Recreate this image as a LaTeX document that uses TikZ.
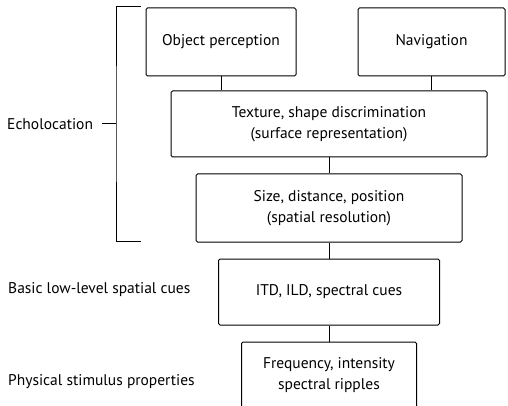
\documentclass[tikz,border=0pt]{standalone}
\usepackage{fontspec}
\setmainfont{PT Sans}
\usetikzlibrary{positioning}
\tikzstyle{block} = [rectangle, draw, text centered, rounded corners=1.5pt, inner sep=0pt, line width=1pt, minimum height=66pt]
\tikzstyle{line} = [draw, line width=1pt]
\tikzstyle{levelname} = [anchor=west, inner sep=0pt]

\begin{document}
\begin{tikzpicture}[x=1pt, y=-1pt, node distance=16pt, font=\fontsize{15.5}{20.5}\selectfont]
      \useasboundingbox (0,0) rectangle (508,406);
      % place nodes
      \node [block, minimum width=150pt, minimum height=68pt] (obj) at (221,42) {Object perception};
      \node [block, minimum width=147pt, minimum height=68pt] (nav) at (431.5,42) {Navigation};
      \node [block, minimum width=316pt, align=center] (tex) at (329,124) {Texture, shape discrimination\\(surface representation)};
      \node [block, below=of tex, minimum width=266pt, minimum height=68pt, align=center] (size) {Size, distance, position\\(spatial resolution)};
      \node [block, below=of size, minimum width=221pt] (itd) {ITD, ILD, spectral cues};
      \node [block, below=of itd, minimum width=175pt, align=center] (freq) {Frequency, intensity\\spectral ripples};

      \node [levelname] (echo) at (7,124) {Echolocation};
      \node [levelname] (basic) at (8,290) {Basic low-level spatial cues};
      \node [levelname] (phys) at (8,382) {Physical stimulus properties};

      \coordinate (brtop) at (141,7);
      \coordinate (brmid) at (116,124);
      \coordinate (brbot) at (141,241);

      % draw edges
      \path [line] (obj.south) -- (obj.south |- tex.north);
      \path [line] (nav.south) -- (nav.south |- tex.north);
      \path [line] (tex) -- (size);
      \path [line] (size) -- (itd);
      \path [line] (itd) -- (freq);
      \path [line] (brtop) -| (brmid) |- (brbot);
      \path [line] ([xshift=9pt]echo.east) -- (brmid);
    \end{tikzpicture}
\end{document}
